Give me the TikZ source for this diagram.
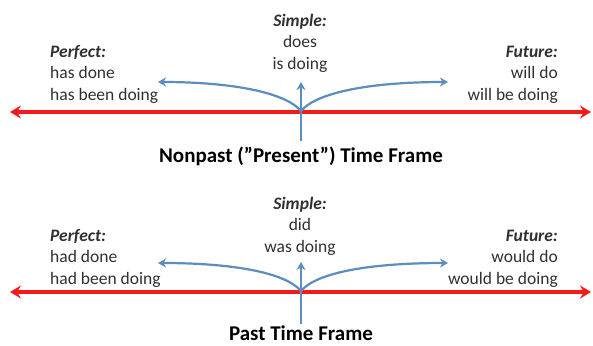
\documentclass[tikz,border=0pt]{standalone}
\usepackage{fontspec}
\setmainfont{Carlito}
\usetikzlibrary{arrows.meta}
\definecolor{tlred}{HTML}{F41A1A}
\definecolor{tlblue}{HTML}{5B8DC0}
\definecolor{tltext}{HTML}{303030}
\tikzset{
  timeline/.style={draw=tlred, line width=3.5pt, {Stealth[length=11pt,width=13pt,inset=4pt]}-{Stealth[length=11pt,width=13pt,inset=4pt]}},
  aspect/.style={draw=tlblue, line width=2.2pt, -{Stealth[length=8pt,width=9pt,inset=2.5pt]}},
  lbl/.style={text=tltext, font=\fontsize{17.5}{21.5}\selectfont, inner sep=0pt},
  frame/.style={text=black, font=\fontsize{21}{24}\selectfont\bfseries, inner sep=0pt}
}
\begin{document}
\begin{tikzpicture}[x=1pt,y=-1pt]
\useasboundingbox[fill=white] (0,0) rectangle (593,345);
% ---------- Nonpast frame ----------
\coordinate (aL) at (10,112);
\coordinate (aR) at (591,112);
\coordinate (aO) at (301,111);
\coordinate (aVb) at (301,141);
\coordinate (aVt) at (301,82);
\coordinate (aPl) at (158,82);
\coordinate (aFr) at (448,82);
\draw[timeline] (aL) -- (aR);
\draw[aspect] (aVb) -- (aVt);
\draw[aspect] (aO) .. controls (285,92) and (230,82) .. (aPl);
\draw[aspect] (aO) .. controls (317,92) and (372,82) .. (aFr);
\node[lbl, anchor=base west, align=left] (aPerf) at (50,100) {\textbf{\textit{Perfect:}}\\has done\\has been doing};
\node[lbl, anchor=base, align=center] (aSimp) at (300,69) {\textbf{\textit{Simple:}}\\does\\is doing};
\node[lbl, anchor=base east, align=right] (aFut) at (558,100) {\textbf{\textit{Future:}}\\will do\\will be doing};
\node[frame, anchor=base] (aTitle) at (301,162) {Nonpast (”Present”) Time Frame};
% ---------- Past frame ----------
\coordinate (bL) at (10,292);
\coordinate (bR) at (591,292);
\coordinate (bO) at (301,291);
\coordinate (bVb) at (301,324);
\coordinate (bVt) at (301,262);
\coordinate (bPl) at (158,263);
\coordinate (bFr) at (448,263);
\draw[timeline] (bL) -- (bR);
\draw[aspect] (bVb) -- (bVt);
\draw[aspect] (bO) .. controls (285,272) and (230,263) .. (bPl);
\draw[aspect] (bO) .. controls (317,272) and (372,263) .. (bFr);
\node[lbl, anchor=base west, align=left] (bPerf) at (50,284) {\textbf{\textit{Perfect:}}\\had done\\had been doing};
\node[lbl, anchor=base, align=center] (bSimp) at (300,252) {\textbf{\textit{Simple:}}\\did\\was doing};
\node[lbl, anchor=base east, align=right] (bFut) at (558,284) {\textbf{\textit{Future:}}\\would do\\would be doing};
\node[frame, anchor=base] (bTitle) at (301,340) {Past Time Frame};
\end{tikzpicture}
\end{document}
